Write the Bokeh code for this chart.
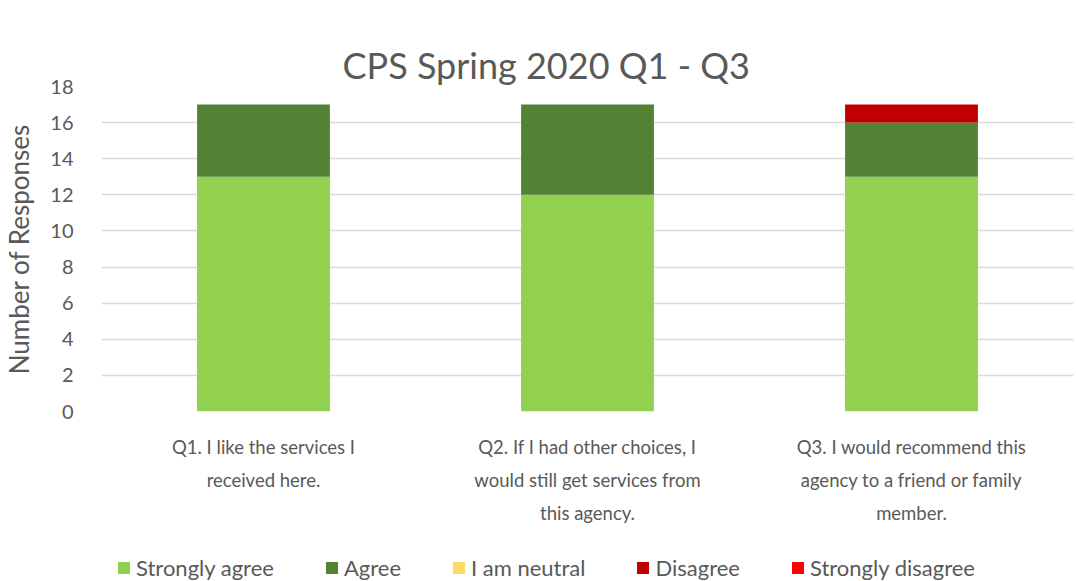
from bokeh.plotting import figure
from bokeh.layouts import column
from bokeh.models import Legend, LegendItem, FactorRange, FixedTicker, Title
from bokeh.embed import file_html
from bokeh.resources import INLINE

questions = [
    "Q1. I like the services I\nreceived here.",
    "Q2. If I had other choices, I\nwould still get services from\nthis agency.",
    "Q3. I would recommend this\nagency to a friend or family\nmember.",
]
responses = ["Strongly agree", "Agree", "I am neutral", "Disagree", "Strongly disagree"]
strongly_agree = [13, 12, 13]
agree = [4, 5, 3]
neutral = [0, 0, 0]
disagree = [0, 0, 1]
strongly_disagree = [0, 0, 0]
y_ticks = [0, 2, 4, 6, 8, 10, 12, 14, 16, 18]
colors = ["#92D050", "#548235", "#FFD966", "#C00000", "#FF0000"]
title_text = "CPS Spring 2020 Q1 - Q3"

FONT = "Lato"
GREY = "#595959"
stack_cols = ["sa", "a", "n", "d", "sd"]
data = dict(q=questions, sa=strongly_agree, a=agree, n=neutral, d=disagree, sd=strongly_disagree)

# ---- main chart ----
p = figure(x_range=FactorRange(factors=questions, range_padding=0), y_range=(0, 18),
           frame_width=972, frame_height=325, output_backend="svg", toolbar_location=None,
           title=None, min_border_left=100, min_border_right=3,
           min_border_top=86, min_border_bottom=143)

p.vbar_stack(stack_cols, x="q", width=0.41, color=colors, source=data, line_color=None)

# title first (outermost), then a spacer panel between title and plot area
main_title = Title(text=title_text, align="left", offset=241, standoff=0,
                   text_font=FONT, text_font_size="36px", text_font_style="normal",
                   text_color=GREY)
p.add_layout(main_title, "above")

spacer = Title(text=" ", text_font_size="10px", standoff=24, text_alpha=0)
p.add_layout(spacer, "above")

p.yaxis.ticker = FixedTicker(ticks=y_ticks)
p.yaxis.axis_label = "Number of Responses"
p.yaxis.axis_label_text_font = FONT
p.yaxis.axis_label_text_font_size = "26px"
p.yaxis.axis_label_text_font_style = "normal"
p.yaxis.axis_label_text_color = GREY
p.yaxis.axis_label_standoff = 12
p.yaxis.major_label_text_font = FONT
p.yaxis.major_label_text_font_size = "20px"
p.yaxis.major_label_text_color = GREY
p.yaxis.major_label_standoff = 22

p.xaxis.major_label_text_font = FONT
p.xaxis.major_label_text_font_size = "18.5px"
p.xaxis.major_label_text_line_height = 1.5
p.xaxis.major_label_text_color = GREY
p.xaxis.major_label_standoff = 18

for ax in (p.xaxis[0], p.yaxis[0]):
    ax.axis_line_color = None
    ax.major_tick_line_color = None
    ax.minor_tick_line_color = None

p.xgrid.grid_line_color = None
p.ygrid.grid_line_color = "#D9D9D9"
p.ygrid.grid_line_width = 1.3
p.outline_line_color = None

# ---- legend strip ----
lg = figure(x_range=FactorRange(factors=questions), y_range=(0, 18),
            width=1075, height=27, output_backend="svg", toolbar_location=None,
            min_border_left=0, min_border_right=0, min_border_top=0, min_border_bottom=0)
rs = lg.vbar_stack(stack_cols, x="q", width=0.41, color=colors, source=data,
                   line_color=None, visible=False)
lg.axis.visible = False
lg.grid.grid_line_color = None
lg.outline_line_color = None

legend = Legend(items=[LegendItem(label=lab, renderers=[r]) for lab, r in zip(responses, rs)],
                orientation="horizontal", location=(15, 0))
legend.label_text_font = FONT
legend.label_text_font_size = "22px"
legend.label_text_color = GREY
legend.glyph_width = 15
legend.glyph_height = 15
legend.spacing = 50
legend.label_standoff = 5
legend.border_line_color = None
legend.background_fill_alpha = 0
legend.inactive_fill_alpha = 0
legend.padding = 0
legend.margin = 0
legend.click_policy = "none"
lg.add_layout(legend, "center")

layout = column(p, lg, spacing=0)
open("out.html", "w").write(file_html(layout, INLINE))
